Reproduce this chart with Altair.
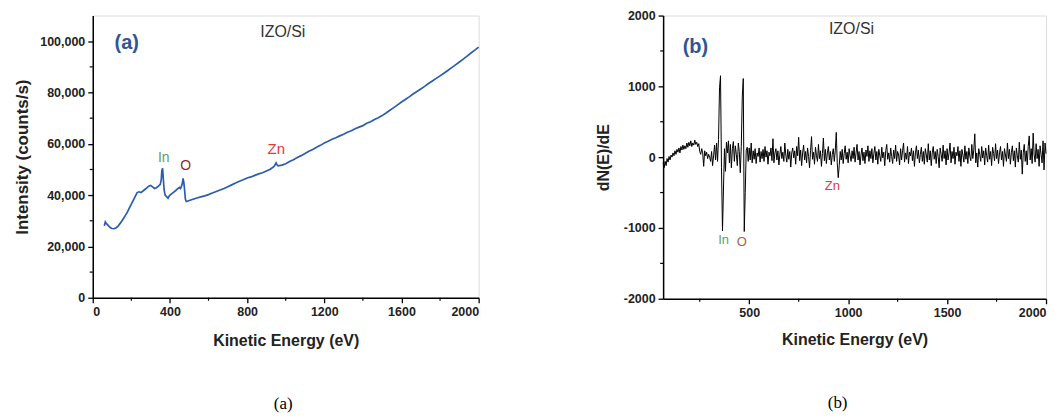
import altair as alt
import pandas as pd

# ---------------- Panel (a): Auger survey spectrum ----------------
E_A = [60, 65, 70, 80, 90, 100, 110, 120, 130, 140,
       150, 160, 170, 180, 190, 200, 210, 220, 230, 240,
       250, 260, 270, 280, 290, 300, 310, 320, 330, 340,
       350, 355, 358, 362, 365, 370, 375, 385, 390, 395,
       400, 410, 420, 430, 440, 450, 455, 460, 465, 468,
       472, 476, 480, 485, 490, 500, 520, 540, 560, 580,
       600, 620, 640, 660, 680, 700, 720, 740, 760, 780,
       800, 820, 840, 860, 880, 900, 920, 940, 950, 955,
       960, 980, 1000, 1020, 1040, 1060, 1080, 1100, 1120, 1140,
       1160, 1180, 1200, 1220, 1240, 1260, 1280, 1300, 1320, 1340,
       1360, 1380, 1400, 1420, 1440, 1460, 1480, 1500, 1520, 1540,
       1560, 1580, 1600, 1620, 1640, 1660, 1680, 1700, 1720, 1740,
       1760, 1780, 1800, 1820, 1840, 1860, 1880, 1900, 1920, 1940,
       1960, 1980, 2000]
I_A = [28000, 29600, 29000, 28200, 27400, 27000, 26900, 27200, 27800, 28800,
       29800, 31000, 32200, 33500, 35000, 36500, 38000, 39500, 41000, 41300,
       41000, 41600, 42200, 42800, 43500, 43800, 43200, 42600, 42900, 43500,
       44200, 46000, 49500, 50500, 47000, 42000, 40000, 39200, 38800, 39500,
       40000, 40600, 41200, 41800, 42500, 43000, 42600, 43500, 44800, 46500,
       45000, 42000, 38500, 37500, 37600, 37900, 38400, 38900, 39300, 39700,
       40200, 40800, 41400, 42000, 42600, 43300, 44000, 44700, 45400, 46000,
       46700, 47100, 47700, 48300, 48700, 49400, 50100, 51200, 52600, 51800,
       51400, 51700, 52200, 53100, 53800, 54700, 55400, 56200, 57100, 57800,
       58700, 59400, 60300, 61000, 61800, 62400, 63100, 63700, 64500, 65100,
       65900, 66500, 67100, 68000, 68600, 69500, 70200, 71000, 72000, 73100,
       74100, 75200, 76300, 77300, 78300, 79400, 80400, 81400, 82400, 83500,
       84500, 85500, 86500, 87500, 88600, 89700, 90800, 91900, 93000, 94200,
       95400, 96500, 97700]

# ---------------- Panel (b): differentiated spectrum ----------------
B_START = 65
B_STEP = 5
D_B = [
    -80, -150, -60, -120, -20, -70, 10, -40, 30, 0,
    60, 20, 90, 40, 110, 70, 130, 60, 150, 100,
    170, 110, 160, 120, 200, 140, 210, 160, 230, 150,
    200, 170, 240, 180, 210, 150, 190, 80, 40, 120,
    60, -130, 90, 20, 70, -20, 40, 0, -60, 80,
    -120, 20, 170, -40, 200, -60, 250, 980, 1150, -150,
    -1040, -450, 120, -200, 210, 60, 230, -80, 180, -150,
    120, 220, -60, 160, 40, -120, 200, 80, -220, 150,
    850, 1110, -1050, -500, 100, 140, -60, 130, -40, 200,
    -80, 90, -30, 120, -90, 60, 10, 130, -70, 80,
    -20, 110, -60, 150, 0, 90, -100, 70, 20, 130,
    -50, 260, -80, 60, 120, -40, 90, -110, 40, 150,
    -20, 70, -60, 200, 30, -70, 110, -30, 80, -140,
    60, 130, -10, 90, -100, 150, 20, 280, -50, 100,
    -120, 60, 170, -40, 80, -80, 130, 10, -150, 90,
    290, -30, 70, -100, 140, 20, -60, 180, -20, 90,
    -130, 50, 270, -50, 110, -90, 60, 150, -40, 80,
    -110, 40, 120, -60, 90, 350, -80, -290, -120, 80,
    -40, 110, -90, 50, 160, -30, 70, -80, 120, 20,
    -60, 90, -20, 140, -70, 60, 180, -40, 80, -110,
    30, 130, -50, 70, -90, 100, 10, 160, -60, 90,
    -20, 120, -80, 50, 150, -40, 80, -100, 110, 20,
    -60, 140, -10, 70, -120, 90, 180, -30, 60, -70,
    130, 10, -90, 100, -20, 170, -60, 80, 30, -110,
    120, -40, 90, 200, -70, 60, -30, 150, -90, 70,
    20, 130, -50, 90, -130, 60, 160, -20, 100, -80,
    40, 140, -60, 80, -100, 120, 30, -70, 190, -40,
    90, -120, 60, 150, -30, 80, -90, 110, 10, -150,
    130, 40, -60, 170, -20, 90, -110, 120, -40, 60,
    200, -80, 80, -20, 140, -100, 70, 20, 150, -60,
    90, -130, 110, 30, -70, 160, -30, 80, -90, 130,
    10, -50, 180, -20, 100, 330, -80, 60, -140, 120,
    40, -60, 150, -10, 90, -110, 130, 20, -70, 170,
    -30, 80, -120, 140, 50, -50, 190, -20, 100, -90,
    60, 150, -40, 80, -130, 120, 30, -60, 200, -20,
    110, -100, 70, 160, -50, 90, -140, 130, 20, -70,
    210, -30, 100, -240, 60, 180, -60, 90, -110, 150,
    300, -40, 120, -90, 340, 30, -70, 190, -20, 110,
    -130, 160, 40, -80, 230, -180, 200, 50,
]
E_B = [B_START + B_STEP * i for i in range(len(D_B))]

# annotations
ANN_A_TEXT = ["IZO/Si", "In", "O", "Zn"]
ANN_A_X = [985, 368, 482, 951]
ANN_A_Y = [103600, 54500, 51200, 58000]
ANN_A_COL = ["#333333", "#5e9e62", "#8b2e2e", "#e03a3a"]
ANN_A_SIZE = [16, 14, 14, 15]

ANN_B_TEXT = ["IZO/Si", "Zn", "In", "O"]
ANN_B_X = [1017, 920, 371, 463]
ANN_B_Y = [1815, -414, -1168, -1205]
ANN_B_COL = ["#333333", "#e03a3a", "#5e9e62", "#a0664a"]
ANN_B_SIZE = [16, 13, 13, 13]

XA_MAJOR = [0, 400, 800, 1200, 1600, 2000]
XA_MINOR = [200, 600, 1000, 1400, 1800]
YA_MAJOR = [0, 20000, 40000, 60000, 80000, 100000]
YA_MINOR = [10000, 30000, 50000, 70000, 90000]
XB_MAJOR = [500, 1000, 1500, 2000]
XB_MINOR = [250, 750, 1250, 1750]
YB_MAJOR = [-2000, -1000, 0, 1000, 2000]
YB_MINOR = [-1500, -500, 500, 1500]

BLUE = "#2b5cae"
LABEL_BLUE = "#2f5597"
FONT = "Liberation Sans"

W1, H1 = 387, 283
W2, H2 = 384, 284


def axis_common(**kw):
    return alt.Axis(grid=False, domainColor="black", domainWidth=1.5,
                    tickColor="black", tickWidth=1.3, tickSize=5,
                    labelFont=FONT, labelFontWeight="bold", labelFontSize=12.5,
                    labelColor="#222222", titleFont=FONT, titleFontWeight="bold",
                    titleColor="#222222", labelPadding=3, **kw)


# ---- panel (a) ----
dfA = pd.DataFrame({"E": E_A, "I": I_A})
sxA = alt.Scale(domain=[0, 2000], nice=False, zero=False)
syA = alt.Scale(domain=[0, 110000], nice=False)
axA_x = axis_common(values=XA_MAJOR, title="Kinetic Energy (eV)", titleFontSize=16,
                    titlePadding=14, format="d")
axA_y = axis_common(values=YA_MAJOR, title="Intensity (counts/s)", titleFontSize=17,
                    titlePadding=8, format=",d")

lineA = alt.Chart(dfA).mark_line(color=BLUE, strokeWidth=1.7).encode(
    x=alt.X("E:Q", scale=sxA, axis=axA_x),
    y=alt.Y("I:Q", scale=syA, axis=axA_y),
)
minorXA = alt.Chart(pd.DataFrame({"E": XA_MINOR})).mark_rule(color="black", strokeWidth=1.2).encode(
    x=alt.X("E:Q", scale=sxA, axis=axA_x),
    y=alt.value(H1), y2=alt.value(H1 + 3),
)
minorYA = alt.Chart(pd.DataFrame({"I": YA_MINOR})).mark_rule(color="black", strokeWidth=1.2).encode(
    y=alt.Y("I:Q", scale=syA, axis=axA_y),
    x=alt.value(0), x2=alt.value(-3),
)
dfAnnA = pd.DataFrame({"E": ANN_A_X, "I": ANN_A_Y, "t": ANN_A_TEXT,
                       "c": ANN_A_COL, "s": ANN_A_SIZE})
annA = alt.Chart(dfAnnA).mark_text(font=FONT, align="center", baseline="middle").encode(
    x=alt.X("E:Q", scale=sxA, axis=axA_x),
    y=alt.Y("I:Q", scale=syA, axis=axA_y),
    text="t:N",
    color=alt.Color("c:N", scale=None),
    size=alt.Size("s:Q", scale=None),
)
tagA = alt.Chart(pd.DataFrame({"E": [176], "I": [99300], "t": ["(a)"]})).mark_text(
    font=FONT, fontWeight="bold", fontSize=20, color=LABEL_BLUE, align="center", baseline="middle"
).encode(
    x=alt.X("E:Q", scale=sxA, axis=axA_x),
    y=alt.Y("I:Q", scale=syA, axis=axA_y),
    text="t:N",
)
capA = alt.Chart(pd.DataFrame({"t": ["(a)"]})).mark_text(
    font="Liberation Serif", fontSize=17, color="black", align="center", baseline="middle"
).encode(x=alt.value(191), y=alt.value(390), text="t:N")

chartA = alt.layer(lineA, minorXA, minorYA, annA, tagA, capA).properties(width=W1, height=H1)

# ---- panel (b) ----
dfB = pd.DataFrame({"E": E_B, "D": D_B})
sxB = alt.Scale(domain=[65, 2000], nice=False, zero=False)
syB = alt.Scale(domain=[-2000, 2000], nice=False)
axB_x = axis_common(values=XB_MAJOR, title="Kinetic Energy (eV)", titleFontSize=16,
                    titlePadding=12, format="d")
axB_y = axis_common(values=YB_MAJOR, title="dN(E)/dE", titleFontSize=16,
                    titlePadding=12, labelExpr="'' + datum.value")

lineB = alt.Chart(dfB).mark_line(color="#000000", strokeWidth=1.0).encode(
    x=alt.X("E:Q", scale=sxB, axis=axB_x),
    y=alt.Y("D:Q", scale=syB, axis=axB_y),
)
minorXB = alt.Chart(pd.DataFrame({"E": XB_MINOR})).mark_rule(color="black", strokeWidth=1.2).encode(
    x=alt.X("E:Q", scale=sxB, axis=axB_x),
    y=alt.value(H2), y2=alt.value(H2 + 3),
)
minorYB = alt.Chart(pd.DataFrame({"D": YB_MINOR})).mark_rule(color="black", strokeWidth=1.2).encode(
    y=alt.Y("D:Q", scale=syB, axis=axB_y),
    x=alt.value(0), x2=alt.value(-3),
)
dfAnnB = pd.DataFrame({"E": ANN_B_X, "D": ANN_B_Y, "t": ANN_B_TEXT,
                       "c": ANN_B_COL, "s": ANN_B_SIZE})
annB = alt.Chart(dfAnnB).mark_text(font=FONT, align="center", baseline="middle").encode(
    x=alt.X("E:Q", scale=sxB, axis=axB_x),
    y=alt.Y("D:Q", scale=syB, axis=axB_y),
    text="t:N",
    color=alt.Color("c:N", scale=None),
    size=alt.Size("s:Q", scale=None),
)
tagB = alt.Chart(pd.DataFrame({"E": [228], "D": [1549], "t": ["(b)"]})).mark_text(
    font=FONT, fontWeight="bold", fontSize=20, color=LABEL_BLUE, align="center", baseline="middle"
).encode(
    x=alt.X("E:Q", scale=sxB, axis=axB_x),
    y=alt.Y("D:Q", scale=syB, axis=axB_y),
    text="t:N",
)
capB = alt.Chart(pd.DataFrame({"t": ["(b)"]})).mark_text(
    font="Liberation Serif", fontSize=17, color="black", align="center", baseline="middle"
).encode(x=alt.value(175), y=alt.value(389), text="t:N")

chartB = alt.layer(lineB, minorXB, minorYB, annB, tagB, capB).properties(width=W2, height=H2)

chart = alt.hconcat(chartA, chartB, spacing=112).properties(
    padding={"left": 5, "top": 0, "right": 5, "bottom": 0}
).configure_view(stroke="black", strokeWidth=1.5).configure(background="white")

chart.save("out.html", embed_options={"renderer": "svg", "actions": False})
